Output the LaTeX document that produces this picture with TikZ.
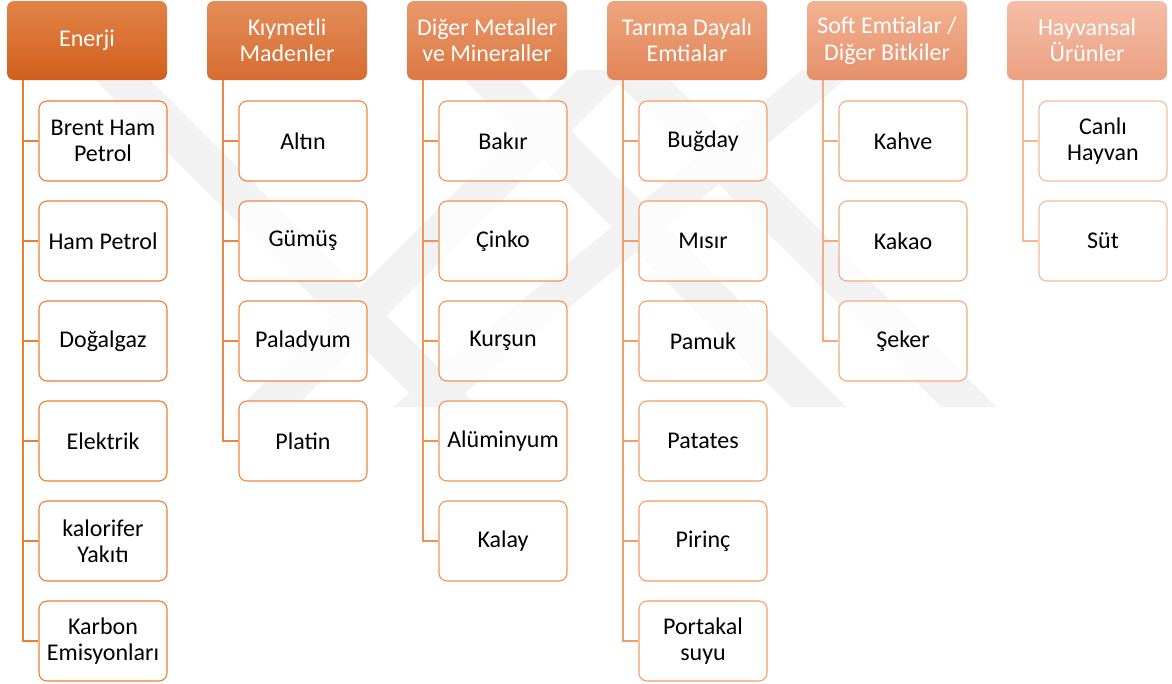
\documentclass[tikz,border=0pt]{standalone}
\usepackage{fontspec}
\setmainfont{Carlito}
\definecolor{wm}{RGB}{242,242,242}
\definecolor{ta}{RGB}{226,130,72}\definecolor{ba}{RGB}{210,96,28}
\definecolor{tb}{RGB}{228,140,88}\definecolor{bb}{RGB}{214,108,50}
\definecolor{tc}{RGB}{233,152,106}\definecolor{bc}{RGB}{220,120,68}
\definecolor{td}{RGB}{238,165,126}\definecolor{bd}{RGB}{226,132,88}
\definecolor{te}{RGB}{242,178,146}\definecolor{be}{RGB}{230,144,106}
\definecolor{tf}{RGB}{245,190,166}\definecolor{bf}{RGB}{235,160,130}
\definecolor{la}{RGB}{237,125,49}
\definecolor{lb}{RGB}{239,135,66}
\definecolor{lc}{RGB}{240,146,84}
\definecolor{ld}{RGB}{242,158,104}
\definecolor{le}{RGB}{244,170,124}
\definecolor{lf}{RGB}{246,184,146}
\tikzset{
  hdr/.style={rounded corners=7pt, minimum width=160pt, minimum height=79pt,
    text=white, align=center, inner sep=0pt},
  kid/.style={rounded corners=8pt, minimum width=128pt, minimum height=80pt,
    align=center, fill=white, fill opacity=0.8, text opacity=1,
    line width=1.1pt, inner sep=0pt, text=black},
  conn/.style={line width=1.5pt},
  band/.style={fill=wm, draw=none},
}
\begin{document}
\begin{tikzpicture}[x=1pt,y=-1pt,font=\fontsize{24}{26.5}\selectfont]
\useasboundingbox (0,0) rectangle (1172,683);
\fill[white] (0,0) rectangle (1172,683);
% watermark (faint background mark)
\fill[band] (85,70) -- (140,70) -- (478,407) -- (423,407) -- cycle;
\fill[band] (455,70) -- (510,70) -- (846,407) -- (791,407) -- cycle;
\fill[band] (605,70) -- (660,70) -- (996,407) -- (941,407) -- cycle;
\fill[band] (240,407) -- (295,407) -- (632,70) -- (577,70) -- cycle;
\fill[band] (393,407) -- (448,407) -- (857,70) -- (802,70) -- cycle;
% headers
\node[hdr, top color=ta, bottom color=ba] (h1) at (87,40.5) {Enerji};
\node[hdr, top color=tb, bottom color=bb] (h2) at (287,40.5) {Kıymetli\\Madenler};
\node[hdr, top color=tc, bottom color=bc] (h3) at (487,40.5) {Diğer Metaller\\ve Mineraller};
\node[hdr, top color=td, bottom color=bd] (h4) at (687,40.5) {Tarıma Dayalı\\Emtialar};
\node[hdr, top color=te, bottom color=be] (h5) at (887,40.5) {Soft Emtialar /\\Diğer Bitkiler};
\node[hdr, top color=tf, bottom color=bf] (h6) at (1087,40.5) {Hayvansal\\Ürünler};
% column 1
\node[kid, draw=la] (c11) at (103,141) {Brent Ham\\Petrol};
\node[kid, draw=la] (c12) at (103,241) {Ham Petrol};
\node[kid, draw=la] (c13) at (103,341) {Doğalgaz};
\node[kid, draw=la] (c14) at (103,441) {Elektrik};
\node[kid, draw=la] (c15) at (103,541) {kalorifer\\Yakıtı};
\node[kid, draw=la] (c16) at (103,641) {Karbon\\Emisyonları};
% column 2
\node[kid, draw=lb] (c21) at (303,141) {Altın};
\node[kid, draw=lb] (c22) at (303,241) {Gümüş};
\node[kid, draw=lb] (c23) at (303,341) {Paladyum};
\node[kid, draw=lb] (c24) at (303,441) {Platin};
% column 3
\node[kid, draw=lc] (c31) at (503,141) {Bakır};
\node[kid, draw=lc] (c32) at (503,241) {Çinko};
\node[kid, draw=lc] (c33) at (503,341) {Kurşun};
\node[kid, draw=lc] (c34) at (503,441) {Alüminyum};
\node[kid, draw=lc] (c35) at (503,541) {Kalay};
% column 4
\node[kid, draw=ld] (c41) at (703,141) {Buğday};
\node[kid, draw=ld] (c42) at (703,241) {Mısır};
\node[kid, draw=ld] (c43) at (703,341) {Pamuk};
\node[kid, draw=ld] (c44) at (703,441) {Patates};
\node[kid, draw=ld] (c45) at (703,541) {Pirinç};
\node[kid, draw=ld] (c46) at (703,641) {Portakal\\suyu};
% column 5
\node[kid, draw=le] (c51) at (903,141) {Kahve};
\node[kid, draw=le] (c52) at (903,241) {Kakao};
\node[kid, draw=le] (c53) at (903,341) {Şeker};
% column 6
\node[kid, draw=lf] (c61) at (1103,141) {Canlı\\Hayvan};
\node[kid, draw=lf] (c62) at (1103,241) {Süt};
% connectors
\coordinate (s1) at ([xshift=16pt]h1.south west);
\coordinate (s2) at ([xshift=16pt]h2.south west);
\coordinate (s3) at ([xshift=16pt]h3.south west);
\coordinate (s4) at ([xshift=16pt]h4.south west);
\coordinate (s5) at ([xshift=16pt]h5.south west);
\coordinate (s6) at ([xshift=16pt]h6.south west);
\foreach \j in {1,...,6} \draw[conn, draw=la] (s1) |- (c1\j.west);
\foreach \j in {1,...,4} \draw[conn, draw=lb] (s2) |- (c2\j.west);
\foreach \j in {1,...,5} \draw[conn, draw=lc] (s3) |- (c3\j.west);
\foreach \j in {1,...,6} \draw[conn, draw=ld] (s4) |- (c4\j.west);
\foreach \j in {1,...,3} \draw[conn, draw=le] (s5) |- (c5\j.west);
\foreach \j in {1,...,2} \draw[conn, draw=lf] (s6) |- (c6\j.west);
\end{tikzpicture}
\end{document}
